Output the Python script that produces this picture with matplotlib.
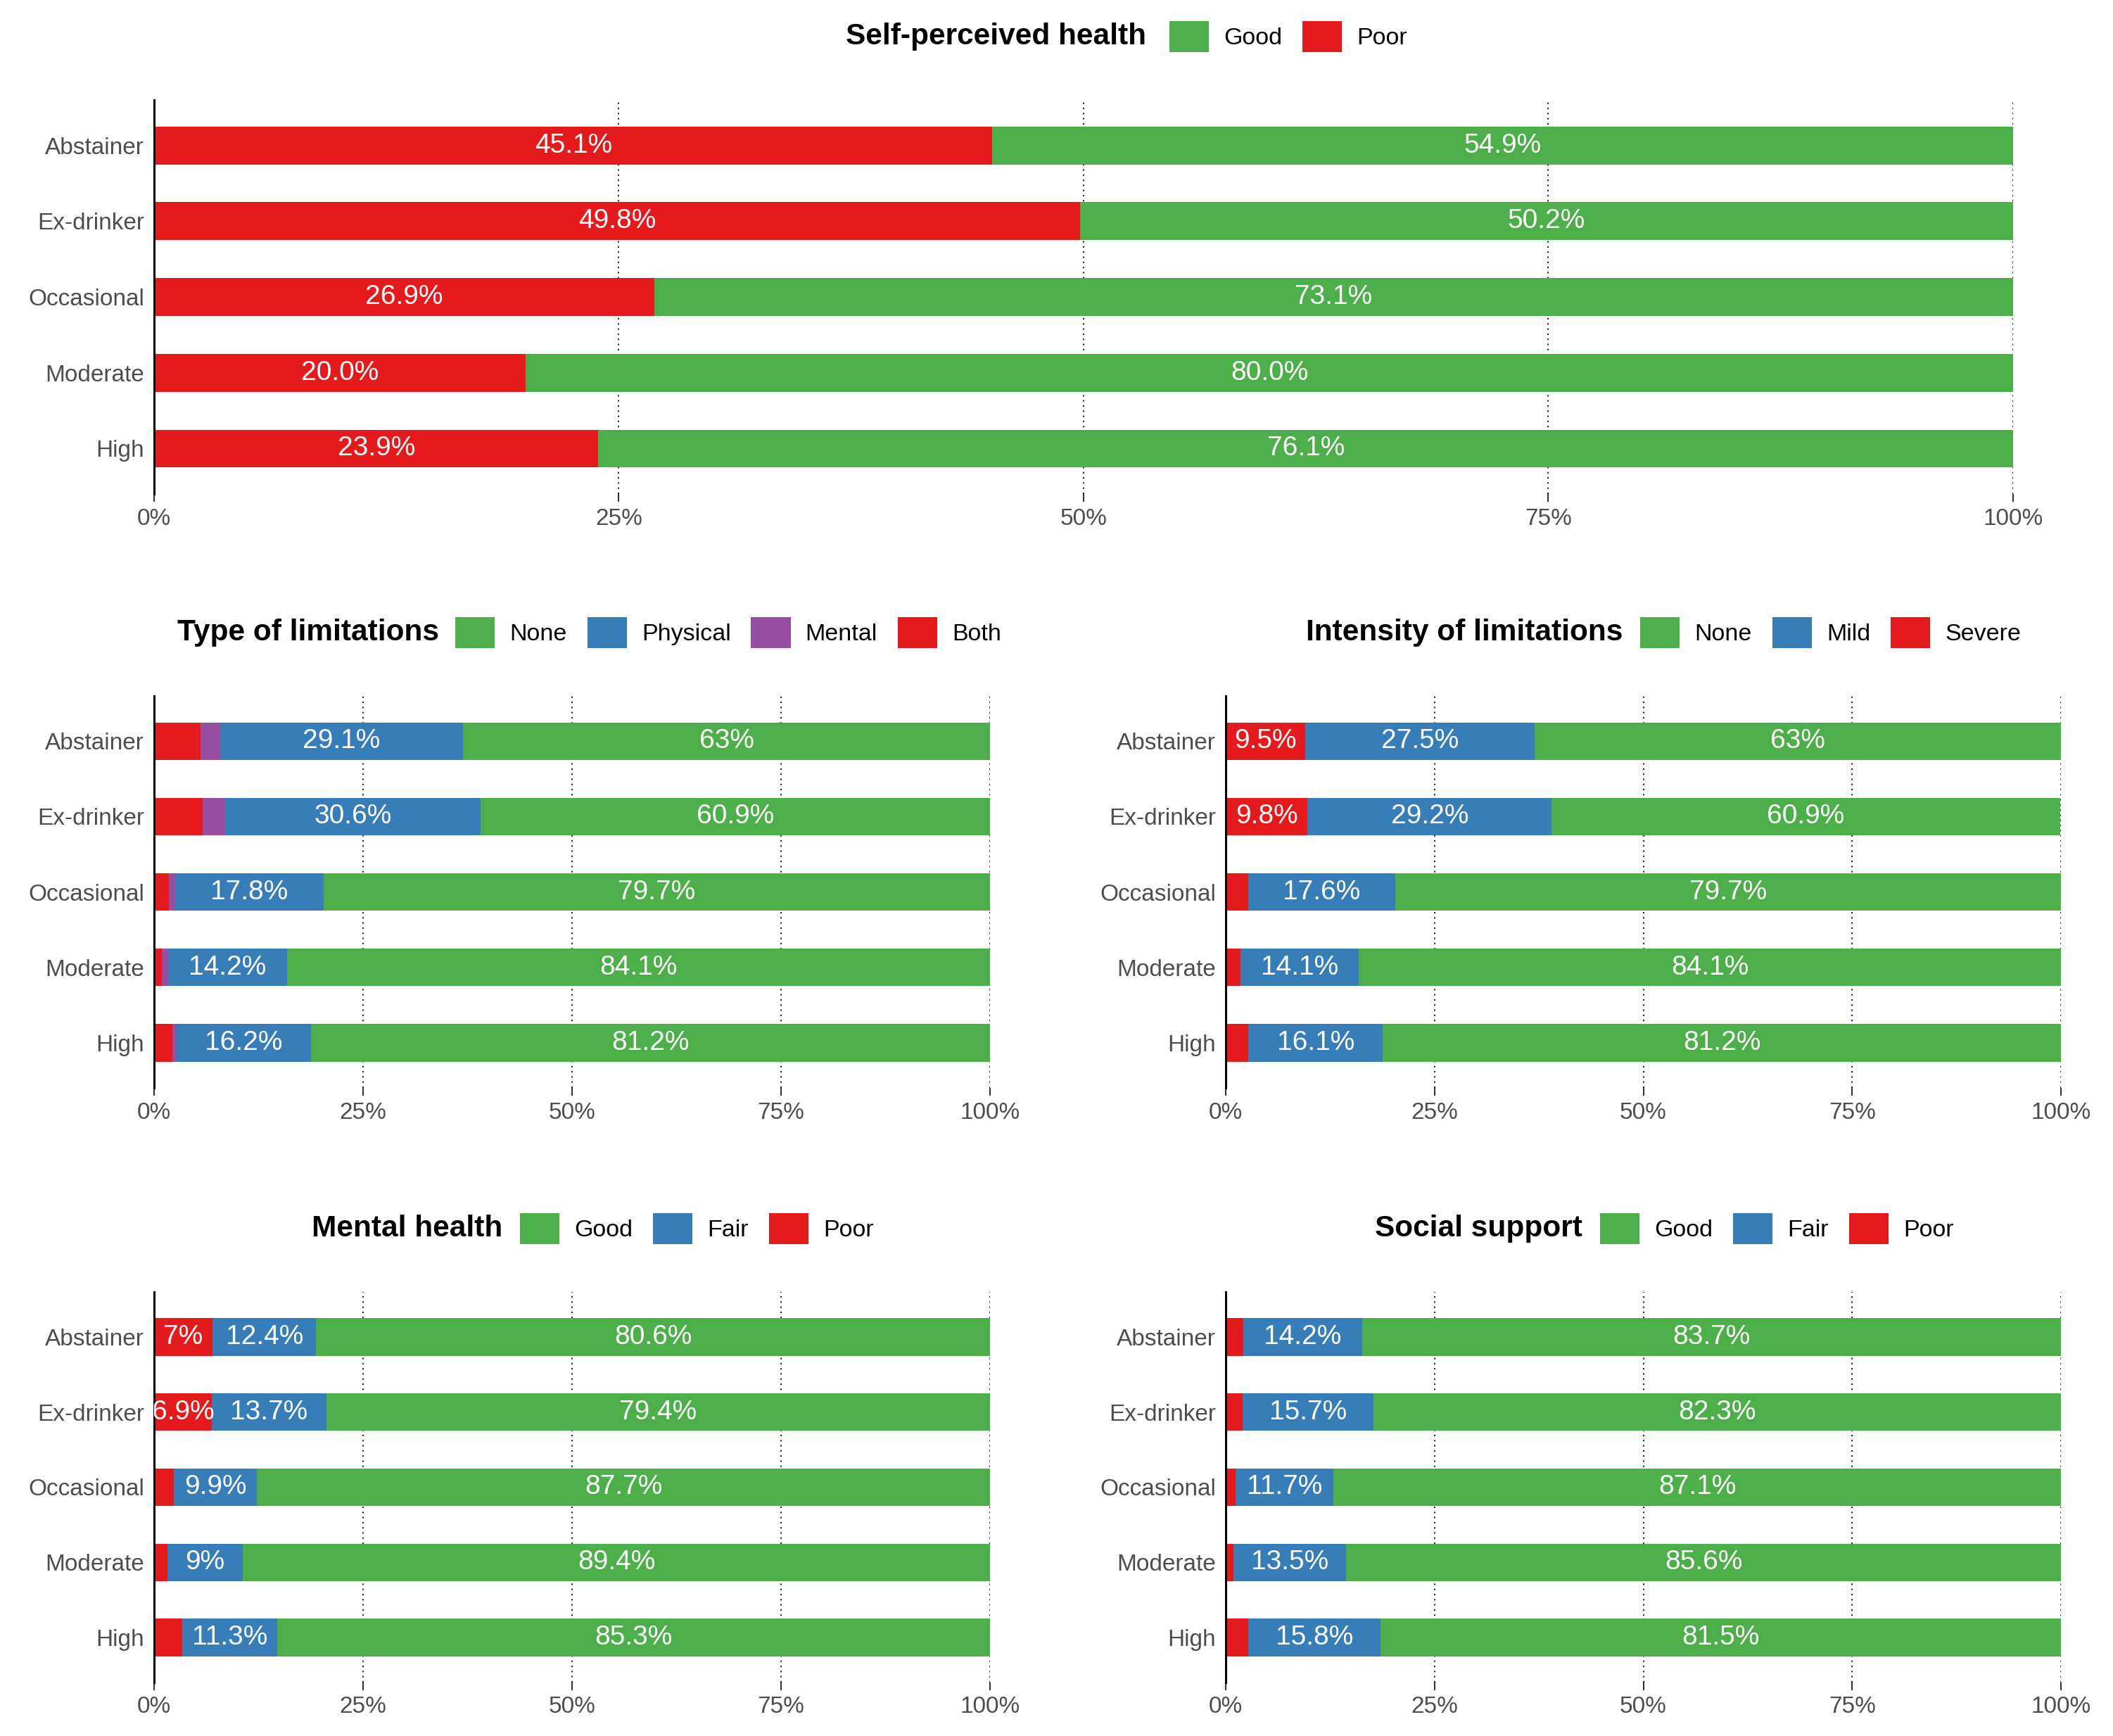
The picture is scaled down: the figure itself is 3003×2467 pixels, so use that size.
import matplotlib.pyplot as plt
from matplotlib.patches import Patch

plt.rcParams['font.family'] = ['Liberation Sans', 'DejaVu Sans']

groups = ["Abstainer", "Ex-drinker", "Occasional", "Moderate", "High"]

GREEN, BLUE, PURPLE, RED = "#4DAF4A", "#377EB8", "#984EA3", "#E41A1C"

# self-perceived health
sph_poor = [45.1, 49.8, 26.9, 20.0, 23.9]
sph_good = [54.9, 50.2, 73.1, 80.0, 76.1]

# type of limitations
lim_both = [5.6, 5.8, 1.8, 0.9, 2.2]
lim_mental = [2.3, 2.7, 0.7, 0.8, 0.4]
lim_physical = [29.1, 30.6, 17.8, 14.2, 16.2]
lim_none = [63.0, 60.9, 79.7, 84.1, 81.2]

# intensity of limitations
int_severe = [9.5, 9.8, 2.7, 1.8, 2.7]
int_mild = [27.5, 29.2, 17.6, 14.1, 16.1]
int_none = [63.0, 60.9, 79.7, 84.1, 81.2]

# mental health
mh_poor = [7.0, 6.9, 2.4, 1.6, 3.4]
mh_fair = [12.4, 13.7, 9.9, 9.0, 11.3]
mh_good = [80.6, 79.4, 87.7, 89.4, 85.3]

# social support
ss_poor = [2.1, 2.0, 1.2, 0.9, 2.7]
ss_fair = [14.2, 15.7, 11.7, 13.5, 15.8]
ss_good = [83.7, 82.3, 87.1, 85.6, 81.5]

W, H = 3003, 2467
fig = plt.figure(figsize=(W / 100, H / 100), dpi=100)


def fmt_round(v):
    s = f"{v:.1f}"
    if s.endswith(".0"):
        s = s[:-2]
    return s + "%"


def fmt_fixed(v):
    return f"{v:.1f}%"


def draw(rect, segments, title, title_right, keys_left, legend_y, fmt):
    ax = fig.add_axes(rect)
    y = list(range(len(groups)))
    left = [0.0] * len(groups)
    for name, vals, col in segments:
        ax.barh(y, vals, left=left, height=0.5, color=col, zorder=2)
        for i, v in enumerate(vals):
            if v >= 6:
                ax.text(left[i] + v / 2, i, fmt(v), ha='center', va='center',
                        color='white', fontsize=28, zorder=3, clip_on=True)
        left = [a + b for a, b in zip(left, vals)]

    ax.set_xlim(0, 100)
    ax.set_ylim(4.6, -0.6)
    ax.set_yticks(y)
    ax.set_yticklabels(groups)
    ax.set_xticks([0, 25, 50, 75, 100])
    ax.set_xticklabels(["0%", "25%", "50%", "75%", "100%"])
    ax.tick_params(axis='y', length=0, pad=10, labelsize=24, labelcolor='#4D4D4D')
    ax.tick_params(axis='x', length=8, width=1.5, color='#333333', pad=6,
                   labelsize=24, labelcolor='#4D4D4D')
    for s in ['top', 'right', 'bottom']:
        ax.spines[s].set_visible(False)
    ax.spines['left'].set_linewidth(2.2)
    ax.spines['left'].set_color('black')
    for gx in [25, 50, 75, 100]:
        ax.axvline(gx, color='#222222', linestyle=(0, (1, 2.5)), linewidth=1.5, zorder=1)

    fy = 1 - legend_y / H
    fig.text(title_right / W, fy, title, ha='right', va='center',
             fontsize=30.5, fontweight='bold')
    handles = [Patch(facecolor=c, edgecolor='none') for _, _, c in segments[::-1]]
    labels = [n for n, _, _ in segments[::-1]]
    fig.legend(handles, labels, loc='center left', bbox_to_anchor=(keys_left / W, fy),
               ncol=len(labels), frameon=False, fontsize=24.5,
               handlelength=1.65, handleheight=1.65, handletextpad=0.62,
               columnspacing=0.85, borderpad=0, borderaxespad=0)
    return ax


draw([0.0729, 0.7154, 0.8798, 0.2270],
     [("Poor", sph_poor, RED), ("Good", sph_good, GREEN)],
     "Self-perceived health", 1629, 1662, 52, fmt_fixed)

draw([0.0729, 0.3733, 0.3956, 0.2258],
     [("Both", lim_both, RED), ("Mental", lim_mental, PURPLE),
      ("Physical", lim_physical, BLUE), ("None", lim_none, GREEN)],
     "Type of limitations", 624, 647, 899, fmt_round)

draw([0.5801, 0.3733, 0.3953, 0.2258],
     [("Severe", int_severe, RED), ("Mild", int_mild, BLUE), ("None", int_none, GREEN)],
     "Intensity of limitations", 2306, 2331, 899, fmt_round)

draw([0.0729, 0.0308, 0.3956, 0.2250],
     [("Poor", mh_poor, RED), ("Fair", mh_fair, BLUE), ("Good", mh_good, GREEN)],
     "Mental health", 714, 739, 1746, fmt_round)

draw([0.5801, 0.0308, 0.3953, 0.2250],
     [("Poor", ss_poor, RED), ("Fair", ss_fair, BLUE), ("Good", ss_good, GREEN)],
     "Social support", 2249, 2274, 1746, fmt_round)

fig.savefig("out.png", dpi=100)
